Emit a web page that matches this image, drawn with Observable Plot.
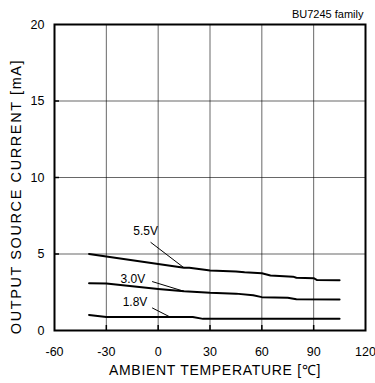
<!DOCTYPE html>
<html><head><meta charset="utf-8">
<script src="https://cdn.jsdelivr.net/npm/d3@7"></script>
<script src="https://cdn.jsdelivr.net/npm/@observablehq/plot@0.6"></script>
<style>body{margin:0;background:#fff;font-family:"Liberation Sans",Arial,sans-serif}</style>
</head><body><div id="chart"></div>
<script>
const title = "BU7245 family";
const xLabel = "AMBIENT TEMPERATURE [\u2103]";
const yLabel = "OUTPUT SOURCE CURRENT [mA]";
const xTicks = [-60, -30, 0, 30, 60, 90, 120];
const yTicks = [0, 5, 10, 15, 20];

const t55 = [-40, 15, 18, 28, 30, 45, 50, 60, 65, 78, 80, 90, 92, 105];
const v55 = [5.0, 4.1, 4.1, 3.95, 3.92, 3.86, 3.8, 3.74, 3.6, 3.52, 3.45, 3.42, 3.3, 3.28];
const t30 = [-40, -30, -15, 0, 15, 30, 45, 55, 60, 75, 80, 105];
const v30 = [3.09, 3.07, 2.9, 2.72, 2.56, 2.46, 2.41, 2.3, 2.18, 2.14, 2.04, 2.03];
const t18 = [-40, -30, 20, 26, 105];
const v18 = [1.02, 0.88, 0.88, 0.76, 0.76];

const seriesNames = ["5.5V", "3.0V", "1.8V"];
const labelX = [-7.3, -14.6, -13.4];
const labelY = [6.47, 3.33, 1.83];
const leadX1 = [-4.4, -3.5, -3.5];
const leadY1 = [5.77, 3.2, 1.48];
const leadX2 = [14.7, 14.7, 7.1];
const leadY2 = [4.12, 2.57, 0.87];

const rows = [];
[[t55, v55, "5.5V"], [t30, v30, "3.0V"], [t18, v18, "1.8V"]].forEach(([t, v, s]) =>
  t.forEach((x, i) => rows.push({t: x, v: v[i], s})));
const ann = seriesNames.map((s, i) => ({s, x: labelX[i], y: labelY[i], x1: leadX1[i], y1: leadY1[i], x2: leadX2[i], y2: leadY2[i]}));

const W = 375, H = 383, mL = 54, mR = 10, mT = 24, mB = 53;
const plotH = H - mT - mB, plotW = W - mL - mR;

const chart = Plot.plot({
  width: W, height: H,
  marginLeft: mL, marginRight: mR, marginTop: mT, marginBottom: mB,
  style: {fontFamily: '"Liberation Sans", Arial, sans-serif', fontSize: "12px", color: "#000", background: "#fff"},
  x: {domain: [-60, 120], ticks: xTicks, label: null},
  y: {domain: [0, 20], ticks: yTicks, label: null},
  marks: [
    Plot.gridX(xTicks.slice(1, -1), {stroke: "#000", strokeOpacity: 0.75, strokeWidth: 0.8}),
    Plot.gridY(yTicks.slice(1, -1), {stroke: "#000", strokeOpacity: 0.75, strokeWidth: 0.8}),
    Plot.ruleX(xTicks.slice(1, -1), {stroke: "#000", strokeWidth: 1.5, insetTop: plotH - 5}),
    Plot.ruleY(yTicks.slice(1, -1), {stroke: "#000", strokeWidth: 1.5, insetRight: plotW - 5}),
    Plot.axisX(xTicks, {tickSize: 0, tickPadding: 17, fontSize: 12.5, tickFormat: d => String(d)}),
    Plot.axisY(yTicks, {tickSize: 0, tickPadding: 10, fontSize: 12.5, tickFormat: d => String(d)}),
    Plot.line(rows, {x: "t", y: "v", z: "s", stroke: "#000", strokeWidth: 2}),
    Plot.link(ann, {x1: "x1", y1: "y1", x2: "x2", y2: "y2", stroke: "#000", strokeWidth: 1}),
    Plot.text(ann, {x: "x", y: "y", text: "s", fontSize: 12, fill: "#000"}),
    Plot.text([title], {frameAnchor: "top-right", dy: -14, dx: -2, fontSize: 11, fill: "#000"}),
    Plot.text([xLabel], {frameAnchor: "bottom", lineAnchor: "middle", textAnchor: "middle", dy: 40, dx: 5, fontSize: 14, fill: "#000"}),
    Plot.text([yLabel], {frameAnchor: "left", lineAnchor: "middle", textAnchor: "middle", dx: -38, dy: 19, rotate: -90, fontSize: 14.5, fill: "#000"}),
    Plot.frame({stroke: "#000", strokeWidth: 2})
  ]
});
chart.querySelectorAll("text").forEach(t => {
  if (t.textContent === xLabel) t.style.letterSpacing = "0.7px";
  if (t.textContent === yLabel) t.style.letterSpacing = "1.6px";
});
document.getElementById("chart").append(chart);
</script></body></html>
